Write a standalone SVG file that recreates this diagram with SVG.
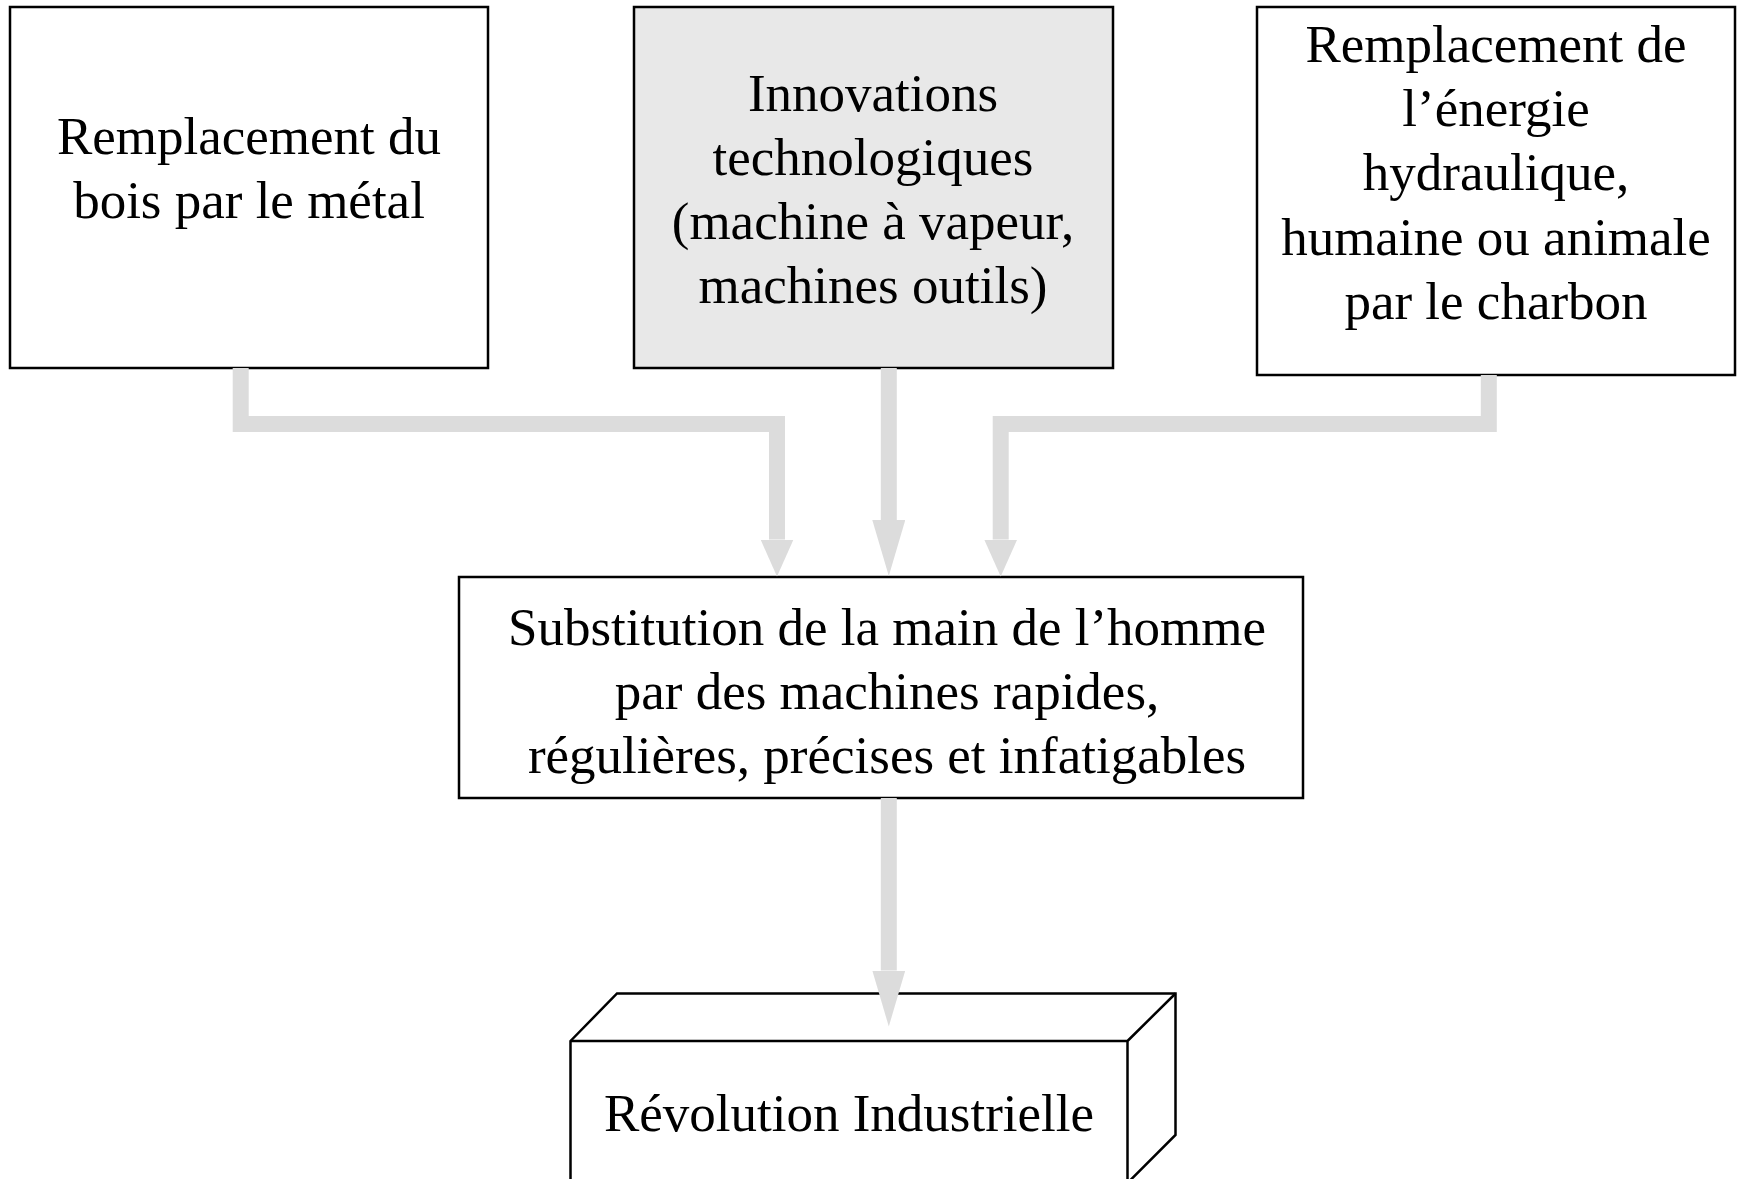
<svg xmlns="http://www.w3.org/2000/svg" width="1741" height="1179" viewBox="0 0 1741 1179">
  <style>
    .box { fill: #ffffff; stroke: #000000; stroke-width: 2.5; }
    .box.shaded { fill: #e8e8e8; }
    .edge { fill: none; stroke: #000000; stroke-width: 2.5; stroke-linejoin: miter; }
    .label { font-family: "Liberation Serif", "Times New Roman", serif; font-size: 53px; fill: #000000; text-anchor: middle; }
    .link { fill: none; stroke: #dcdcdc; stroke-width: 16; stroke-linejoin: miter; stroke-linecap: butt; }
  </style>
  <defs>
    <marker id="head-short" markerUnits="userSpaceOnUse" viewBox="0 -16.5 37 33" refX="0" refY="0" markerWidth="37" markerHeight="33" orient="auto">
      <path d="M0,-16.5 L37,0 L0,16.5 Z" fill="#dcdcdc"/>
    </marker>
    <marker id="head-long" markerUnits="userSpaceOnUse" viewBox="0 -16.5 56 33" refX="0" refY="0" markerWidth="56" markerHeight="33" orient="auto">
      <path d="M0,-16.5 L56,0 L0,16.5 Z" fill="#dcdcdc"/>
    </marker>
  </defs>

  <rect width="1741" height="1179" fill="#ffffff"/>

  <g id="node-bois-metal">
    <rect class="box" x="10" y="7" width="478" height="361"/>
    <text class="label" x="249" y="154">Remplacement du</text>
    <text class="label" x="249" y="218">bois par le métal</text>
  </g>

  <g id="node-innovations">
    <rect class="box shaded" x="634" y="7" width="479" height="361"/>
    <text class="label" x="873" y="111">Innovations</text>
    <text class="label" x="873" y="175">technologiques</text>
    <text class="label" x="873" y="239">(machine à vapeur,</text>
    <text class="label" x="873" y="303">machines outils)</text>
  </g>

  <g id="node-energie">
    <rect class="box" x="1257" y="7" width="478" height="368"/>
    <text class="label" x="1496" y="62">Remplacement de</text>
    <text class="label" x="1496" y="126">l’énergie</text>
    <text class="label" x="1496" y="190">hydraulique,</text>
    <text class="label" x="1496" y="255">humaine ou animale</text>
    <text class="label" x="1496" y="319">par le charbon</text>
  </g>

  <g id="node-substitution">
    <rect class="box" x="459" y="577" width="844" height="221"/>
    <text class="label" x="887" y="645">Substitution de la main de l’homme</text>
    <text class="label" x="887" y="709">par des machines rapides,</text>
    <text class="label" x="887" y="773">régulières, précises et infatigables</text>
  </g>

  <g id="node-revolution">
    <path class="box" d="M570.5,1041 L617,993.5 L1175.5,993.5 L1175.5,1135 L1127.5,1183 L570.5,1183 Z"/>
    <path class="edge" d="M570.5,1041 H1127.5 V1183 M1127.5,1041 L1175.5,993.5"/>
    <text class="label" x="849" y="1131">Révolution Industrielle</text>
  </g>

  <g id="connectors">
    <path class="link" d="M240.7,368 V424 H777 V539.5" marker-end="url(#head-short)"/>
    <path class="link" d="M888.8,368 V520" marker-end="url(#head-long)"/>
    <path class="link" d="M1488.8,375 V424 H1000.7 V539.5" marker-end="url(#head-short)"/>
    <path class="link" d="M888.8,798 V970.5" marker-end="url(#head-long)"/>
  </g>
</svg>
